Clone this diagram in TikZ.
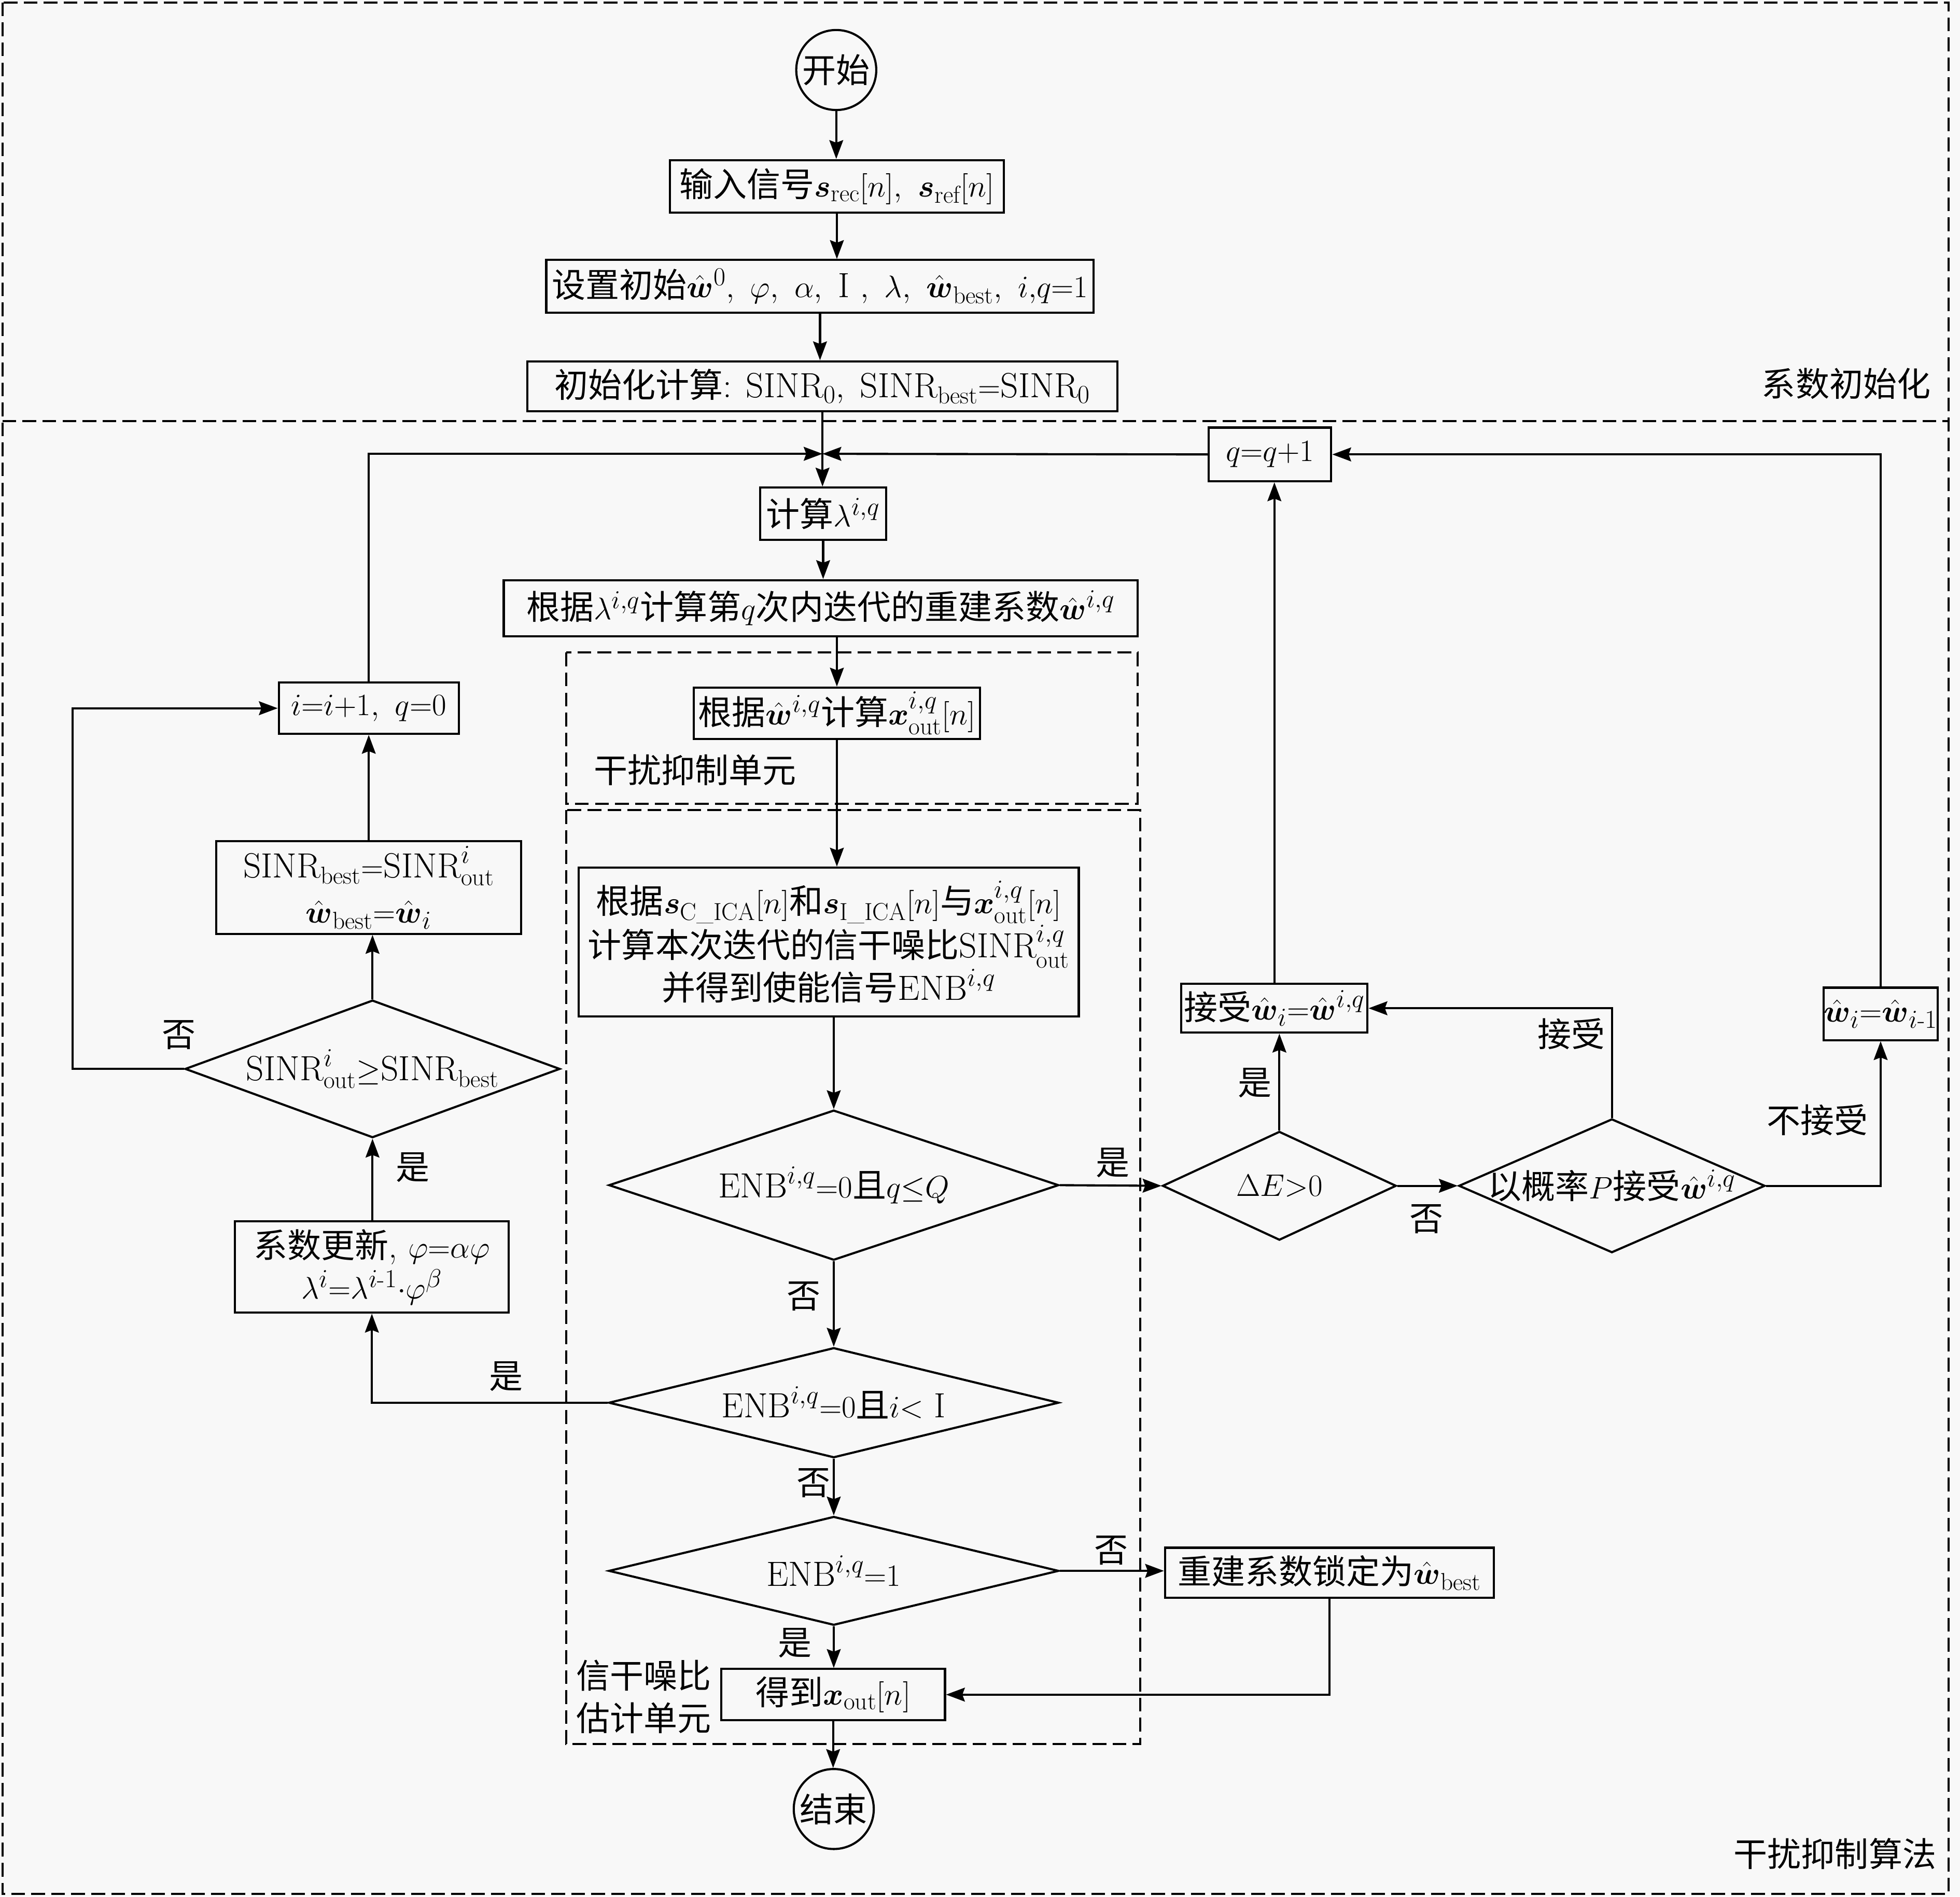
\documentclass[tikz,border=0pt]{standalone}
\usepackage{fontspec}
\usepackage{amsmath,amssymb}
\newfontfamily\cjk[Scale=0.964]{Noto Sans CJK SC}
\newcommand\zh[1]{{\cjk #1}}
\newcommand\bw{\hat{\boldsymbol{w}}}
\usetikzlibrary{shapes.geometric,arrows.meta,calc}
\definecolor{bgc}{HTML}{F8F8F8}
\tikzset{
  every node/.style={font=\fontsize{28}{34}\selectfont},
  box/.style={draw, line width=1.7pt, rectangle, inner sep=0pt, align=center},
  dia/.style={draw, line width=1.7pt, diamond, inner sep=0pt},
  circ/.style={draw, line width=1.7pt, circle, minimum size=64pt, inner sep=0pt},
  arr/.style={line width=1.7pt, -{Stealth[length=15pt,width=11pt,inset=2pt]}},
  ln/.style={line width=1.7pt},
  lbl/.style={inner sep=0pt},
  unitbox/.style={line width=1.7pt, dash pattern=on 11pt off 5pt}
}
\begin{document}
\begin{tikzpicture}[x=1pt,y=-1pt]
\useasboundingbox (0,0) rectangle (1568,1517);
\fill[bgc] (0,0) rectangle (1568,1517);
% frames
\draw[unitbox] (2,2) rectangle (1559,1515);
\draw[unitbox] (2,337) -- (1559,337);
\draw[unitbox] (453,522) rectangle (910,643);
\draw[unitbox] (453,648) rectangle (912,1395);
\node[lbl] (lab1) at (1477,307) {\zh{系数初始化}};
\node[lbl] (lab2) at (1468,1483) {\zh{干扰抑制算法}};
\node[lbl] (lab3) at (556,616) {\zh{干扰抑制单元}};
\node[lbl, align=left] (lab4) at (515,1357) {\zh{信干噪比}\\\zh{估计单元}};
% nodes
\node[circ] (start) at (669,56) {\zh{开始}};
\node[box, minimum width=267pt, minimum height=42pt] (in) at (669.5,149) {\zh{输入信号}$\boldsymbol{s}_{\mathrm{rec}}[n],\ \boldsymbol{s}_{\mathrm{ref}}[n]$};
\node[box, minimum width=438pt, minimum height=42pt] (set) at (656,229) {\zh{设置初始}$\bw^0,\ \varphi,\ \alpha,\ \mathrm{I}\ ,\ \lambda,\ \bw_{\mathrm{best}},\ i{,}q{=}1$};
\node[box, minimum width=472pt, minimum height=40pt] (init) at (658,309) {\zh{初始化计算}: $\mathrm{SINR}_0,\ \mathrm{SINR}_{\mathrm{best}}{=}\mathrm{SINR}_0$};
\node[box, minimum width=101pt, minimum height=42pt] (lam) at (658.5,411) {\zh{计算}$\lambda^{i,q}$};
\node[box, minimum width=507pt, minimum height=45pt] (rebuild) at (656.5,486.5) {\zh{根据}$\lambda^{i,q}$\zh{计算第}$q$\zh{次内迭代的重建系数}$\bw^{i,q}$};
\node[box, minimum width=229pt, minimum height=41pt] (xcalc) at (669.5,570.5) {\zh{根据}$\bw^{i,q}$\zh{计算}$\boldsymbol{x}^{i,q}_{\mathrm{out}}[n]$};
\node[box, minimum width=400pt, minimum height=119pt] (sinr3) at (663,753.5) {\zh{根据}$\boldsymbol{s}_{\mathrm{C\_ICA}}[n]$\zh{和}$\boldsymbol{s}_{\mathrm{I\_ICA}}[n]$\zh{与}$\boldsymbol{x}^{i,q}_{\mathrm{out}}[n]$\\\zh{计算本次迭代的信干噪比}$\mathrm{SINR}^{i,q}_{\mathrm{out}}$\\\zh{并得到使能信号}$\mathrm{ENB}^{i,q}$};
\node[dia, minimum width=360pt, minimum height=120pt] (d1) at (667,948) {};
\node[lbl] (d1t) at (d1.center) {$\mathrm{ENB}^{i,q}{=}0$\zh{且}$q{\le}Q$};
\node[dia, minimum width=360pt, minimum height=88pt] (d2) at (667,1122) {};
\node[lbl] (d2t) at (d2.center) {$\mathrm{ENB}^{i,q}{=}0$\zh{且}$i{<}\ \mathrm{I}$};
\node[dia, minimum width=360pt, minimum height=87pt] (d3) at (667,1256.5) {};
\node[lbl] (d3t) at (d3.center) {$\mathrm{ENB}^{i,q}{=}1$};
\node[box, minimum width=179pt, minimum height=41pt] (out) at (666.5,1355.5) {\zh{得到}$\boldsymbol{x}_{\mathrm{out}}[n]$};
\node[circ] (end) at (667,1447) {\zh{结束}};
\node[box, minimum width=263pt, minimum height=40pt] (lock) at (1063.5,1258) {\zh{重建系数锁定为}$\bw_{\mathrm{best}}$};
\node[dia, minimum width=187pt, minimum height=87pt] (dE) at (1023.5,948.5) {};
\node[lbl] (dEt) at (dE.center) {$\Delta E{>}0$};
\node[dia, minimum width=245pt, minimum height=107pt] (prob) at (1289.5,948.5) {};
\node[lbl] (probt) at (prob.center) {\zh{以概率}$P$\zh{接受}$\bw^{i,q}$};
\node[box, minimum width=149pt, minimum height=39pt] (acc) at (1019.5,806.5) {\zh{接受}$\bw_i{=}\bw^{i,q}$};
\node[box, minimum width=91pt, minimum height=42pt] (wi) at (1504.5,811) {$\bw_i{=}\bw_{i\text{-}1}$};
\node[box, minimum width=98pt, minimum height=43pt] (qq) at (1016,363.5) {$q{=}q{+}1$};
\node[box, minimum width=144pt, minimum height=41pt] (ii) at (295,566.5) {$i{=}i{+}1,\ q{=}0$};
\node[box, minimum width=244pt, minimum height=74pt, font=\fontsize{28}{36}\selectfont] (best) at (295,710) {$\mathrm{SINR}_{\mathrm{best}}{=}\mathrm{SINR}^i_{\mathrm{out}}$\\$\bw_{\mathrm{best}}{=}\bw_i$};
\node[dia, minimum width=300pt, minimum height=110pt] (d4) at (298,855) {};
\node[lbl] (d4t) at (d4.center) {$\mathrm{SINR}^i_{\mathrm{out}}{\ge}\mathrm{SINR}_{\mathrm{best}}$};
\node[box, minimum width=219pt, minimum height=73pt, font=\fontsize{28}{33}\selectfont] (upd) at (297.5,1013.5) {\zh{系数更新}, $\varphi{=}\alpha\varphi$\\$\lambda^i{=}\lambda^{i\text{-}1}{\cdot}\varphi^\beta$};
% edge labels
\node[lbl] (y1) at (643,1037) {\zh{否}};
\node[lbl] (y2) at (651,1186) {\zh{否}};
\node[lbl] (y3) at (636,1314) {\zh{是}};
\node[lbl] (y4) at (889,1240) {\zh{否}};
\node[lbl] (y5) at (405,1101) {\zh{是}};
\node[lbl] (y6) at (330,934) {\zh{是}};
\node[lbl] (y7) at (143,828) {\zh{否}};
\node[lbl] (y8) at (890,930) {\zh{是}};
\node[lbl] (y9) at (1141,975) {\zh{否}};
\node[lbl] (y10) at (1004,866) {\zh{是}};
\node[lbl] (y11) at (1257,827) {\zh{接受}};
\node[lbl] (y12) at (1454,896) {\zh{不接受}};
% connectors
\coordinate (M) at (init.south |- 0,363);
\draw[arr] (start.south) -- (start.south |- in.north);
\draw[arr] (in.south) -- (in.south |- set.north);
\draw[arr] (set.south) -- (set.south |- init.north);
\draw[ln] (init.south) -- (M);
\draw[arr] (M) -- (M |- lam.north);
\draw[arr] (ii.north) |- (M);
\draw[arr] (qq.west) -- (M);
\draw[arr] (lam.south) -- (lam.south |- rebuild.north);
\draw[arr] (rebuild.south -| xcalc.north) -- (xcalc.north);
\draw[arr] (xcalc.south) -- (xcalc.south |- sinr3.north);
\draw[arr] (sinr3.south -| d1.north) -- (d1.north);
\draw[arr] (d1.south) -- (d2.north);
\draw[arr] (d2.south) -- (d3.north);
\draw[arr] (d3.south) -- (d3.south |- out.north);
\draw[arr] (out.south) -- (out.south |- end.north);
\draw[arr] (d3.east) -- (d3.east -| lock.west);
\draw[arr] (lock.south) |- (out.east);
\draw[arr] (d2.west) -| (upd.south);
\draw[arr] (upd.north -| d4.south) -- (d4.south);
\draw[arr] (d4.north) -- (d4.north |- best.south);
\draw[arr] (best.north -| ii.south) -- (ii.south);
\draw[arr] (d4.west) -- (58,855) |- (ii.west);
\draw[arr] (d1.east) -- (dE.west);
\draw[arr] (dE.east) -- (prob.west);
\draw[arr] (dE.north) -- (dE.north |- acc.south);
\draw[arr] (prob.north) |- (acc.east);
\draw[arr] (prob.east) -| (wi.south);
\draw[arr] (wi.north) |- (qq.east);
\draw[arr] (acc.north) -- (acc.north |- qq.south);
\end{tikzpicture}
\end{document}
